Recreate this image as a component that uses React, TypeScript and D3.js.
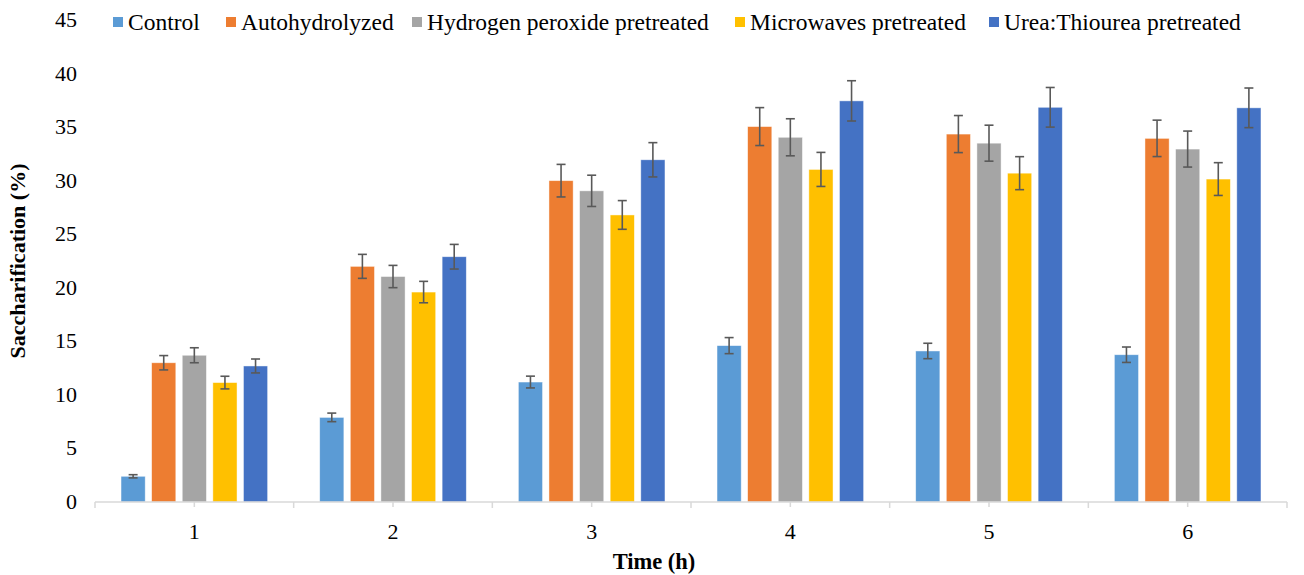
import React from "react";
import * as d3 from "d3";

const categories = ["1", "2", "3", "4", "5", "6"];
const seriesNames = [
  "Control",
  "Autohydrolyzed",
  "Hydrogen peroxide pretreated",
  "Microwaves pretreated",
  "Urea:Thiourea pretreated",
];
const colors = ["#5B9BD5", "#ED7D31", "#A5A5A5", "#FFC000", "#4472C4"];

const controlValues = [2.4, 7.9, 11.2, 14.6, 14.1, 13.75];
const autoValues = [13.0, 22.0, 30.0, 35.05, 34.35, 33.95];
const h2o2Values = [13.7, 21.05, 29.05, 34.05, 33.5, 32.95];
const microValues = [11.15, 19.6, 26.8, 31.05, 30.7, 30.15];
const ureaValues = [12.7, 22.9, 31.95, 37.45, 36.85, 36.8];

const controlErr = [0.15, 0.4, 0.55, 0.75, 0.72, 0.72];
const autoErr = [0.67, 1.12, 1.52, 1.77, 1.73, 1.7];
const h2o2Err = [0.7, 1.04, 1.46, 1.73, 1.68, 1.68];
const microErr = [0.59, 1.0, 1.34, 1.59, 1.54, 1.53];
const ureaErr = [0.65, 1.15, 1.6, 1.88, 1.85, 1.85];

const yTicks = [0, 5, 10, 15, 20, 25, 30, 35, 40, 45];

const allValues = [controlValues, autoValues, h2o2Values, microValues, ureaValues];
const allErrs = [controlErr, autoErr, h2o2Err, microErr, ureaErr];

const W = 1304;
const H = 575;
const left = 95;
const right = 1287;
const top = 20;
const bottom = 502;
const legendX = [113, 226, 412, 735, 989];

export default function App() {
  const x0 = d3.scaleBand<string>().domain(categories).range([left, right]).padding(0);
  const step = x0.step();
  const x1 = d3
    .scaleBand<string>()
    .domain(seriesNames)
    .range([step * 0.131, step * 0.869])
    .paddingInner(0.21)
    .paddingOuter(0);
  const y = d3.scaleLinear().domain([0, 45]).range([bottom, top]);

  const boundaries = d3.range(categories.length + 1).map((i) => left + i * step);
  const capHalf = 4.5;

  return (
    <svg width={W} height={H} style={{ position: "absolute", left: 0, top: 0, fontFamily: "serif" }}>
      <style>{`.tx { font-family: 'Liberation Serif'; fill: #000; } .bd { font-weight: bold; }`}</style>
      <rect x={0} y={0} width={W} height={H} fill="#fff" />
      {categories.map((c, ci) => (
        <g key={c} transform={`translate(${x0(c)},0)`}>
          {seriesNames.map((s, si) => {
            const v = allValues[si][ci];
            const e = allErrs[si][ci];
            const bx = x1(s)!;
            const bw = x1.bandwidth();
            const cx = bx + bw / 2;
            return (
              <g key={s}>
                <rect
                  x={bx}
                  y={y(v)}
                  width={bw}
                  height={y(0) - y(v)}
                  fill={colors[si]}
                  stroke="#fff"
                  strokeOpacity={0.6}
                  strokeWidth={0.75}
                />
                <g stroke="#595959" strokeWidth={1.6}>
                  <line x1={cx} x2={cx} y1={y(v + e)} y2={y(v - e)} />
                  <line x1={cx - capHalf} x2={cx + capHalf} y1={y(v + e)} y2={y(v + e)} />
                  <line x1={cx - capHalf} x2={cx + capHalf} y1={y(v - e)} y2={y(v - e)} />
                </g>
              </g>
            );
          })}
        </g>
      ))}
      <line x1={left} x2={right} y1={bottom} y2={bottom} stroke="#d9d9d9" strokeWidth={1.5} />
      {boundaries.map((bx, i) => (
        <line key={"b" + i} x1={bx} x2={bx} y1={bottom} y2={bottom + 6} stroke="#d9d9d9" strokeWidth={1.5} />
      ))}
      {categories.map((c) => (
        <g key={"t" + c}>
          <line
            x1={x0(c)! + step / 2}
            x2={x0(c)! + step / 2}
            y1={bottom}
            y2={bottom + 5}
            stroke="#d9d9d9"
            strokeWidth={1.5}
          />
          <text className="tx" x={x0(c)! + step / 2} y={539} textAnchor="middle" fontSize={22}>
            {c}
          </text>
        </g>
      ))}
      {yTicks.map((t) => (
        <text className="tx" key={t} x={77} y={y(t) + 7} textAnchor="end" fontSize={22}>
          {t}
        </text>
      ))}
      <text
        className="tx bd"
        transform={`translate(25,${(top + bottom) / 2}) rotate(-90)`}
        textAnchor="middle"
        fontSize={22}
      >
        Saccharification (%)
      </text>
      <text className="tx bd" x={654} y={569} textAnchor="middle" fontSize={22.5}>
        Time (h)
      </text>
      {seriesNames.map((s, i) => (
        <g key={"l" + s} transform={`translate(${legendX[i]},0)`}>
          <rect x={0} y={17} width={10} height={10} fill={colors[i]} />
          <text className="tx" x={15} y={30} fontSize={23.5}>
            {s}
          </text>
        </g>
      ))}
    </svg>
  );
}
